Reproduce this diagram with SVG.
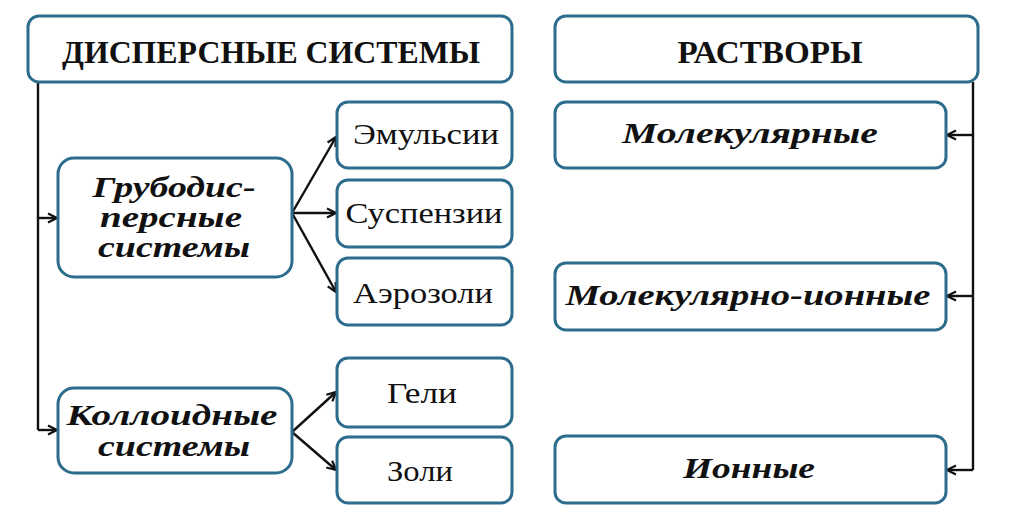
<svg xmlns="http://www.w3.org/2000/svg" width="1016" height="516" viewBox="0 0 1016 516">
<defs>
<marker id="arr" viewBox="0 0 12 12" refX="11" refY="6" markerWidth="12" markerHeight="12" markerUnits="userSpaceOnUse" orient="auto">
<path d="M2,1.5 L11,6 L2,10.5" fill="none" stroke="#111" stroke-width="2.2"/>
</marker>
</defs>
<style>
.box{fill:#fff;stroke:#2c6c8c;stroke-width:3}
.hd{font-family:"Liberation Serif",serif;font-weight:bold;font-size:31px;fill:#111}
.it{font-family:"Liberation Serif",serif;font-weight:bold;font-style:italic;font-size:29px;fill:#111}
.rg{font-family:"Liberation Serif",serif;font-size:29px;fill:#111}
.ln{fill:none;stroke:#111;stroke-width:2.4}
.ar{fill:none;stroke:#111;stroke-width:2.4;marker-end:url(#arr)}
</style>
<rect width="1016" height="516" fill="#fff"/>
<g id="connectors">
<path class="ln" d="M38,82 V430"/>
<path class="ar" d="M38,218 H57"/>
<path class="ar" d="M38,430 H57"/>
<path class="ar" d="M292,213 L336,137"/>
<path class="ar" d="M292,213 H336"/>
<path class="ar" d="M292,213 L336,292"/>
<path class="ar" d="M292,432 L336,392"/>
<path class="ar" d="M292,432 L336,470"/>
<path class="ln" d="M973,82 V470"/>
<path class="ar" d="M973,135 H947"/>
<path class="ar" d="M973,296 H947"/>
<path class="ar" d="M973,470 H947"/>
</g>
<g id="dispersnye">
<rect class="box" x="28" y="16" width="484" height="66" rx="11"/>
<text class="hd" x="271" y="63" text-anchor="middle" textLength="418" lengthAdjust="spacingAndGlyphs">ДИСПЕРСНЫЕ СИСТЕМЫ</text>
</g>
<g id="rastvory">
<rect class="box" x="555" y="16" width="423" height="66" rx="11"/>
<text class="hd" x="770" y="63" text-anchor="middle" textLength="185" lengthAdjust="spacingAndGlyphs">РАСТВОРЫ</text>
</g>
<g id="grubodispersnye">
<rect class="box" x="58" y="158" width="234" height="119" rx="16"/>
<text class="it" x="174" y="197" text-anchor="middle" textLength="163" lengthAdjust="spacingAndGlyphs">Грубодис-</text>
<text class="it" x="171" y="227" text-anchor="middle" textLength="142" lengthAdjust="spacingAndGlyphs">персные</text>
<text class="it" x="174" y="257" text-anchor="middle" textLength="152" lengthAdjust="spacingAndGlyphs">системы</text>
</g>
<g id="kolloidnye">
<rect class="box" x="58" y="388" width="234" height="85" rx="16"/>
<text class="it" x="172" y="425" text-anchor="middle" textLength="211" lengthAdjust="spacingAndGlyphs">Коллоидные</text>
<text class="it" x="174" y="456" text-anchor="middle" textLength="152" lengthAdjust="spacingAndGlyphs">системы</text>
</g>
<g id="emulsii">
<rect class="box" x="337" y="102" width="175" height="66" rx="11"/>
<text class="rg" x="426" y="144" text-anchor="middle" textLength="146" lengthAdjust="spacingAndGlyphs">Эмульсии</text>
</g>
<g id="suspenzii">
<rect class="box" x="337" y="180" width="175" height="67" rx="11"/>
<text class="rg" x="424" y="223" text-anchor="middle" textLength="157" lengthAdjust="spacingAndGlyphs">Суспензии</text>
</g>
<g id="aerozoli">
<rect class="box" x="337" y="258" width="175" height="67" rx="11"/>
<text class="rg" x="423" y="303" text-anchor="middle" textLength="140" lengthAdjust="spacingAndGlyphs">Аэрозоли</text>
</g>
<g id="geli">
<rect class="box" x="337" y="358" width="175" height="69" rx="11"/>
<text class="rg" x="422" y="403" text-anchor="middle" textLength="70" lengthAdjust="spacingAndGlyphs">Гели</text>
</g>
<g id="zoli">
<rect class="box" x="337" y="437" width="175" height="66" rx="11"/>
<text class="rg" x="420" y="481" text-anchor="middle" textLength="66" lengthAdjust="spacingAndGlyphs">Золи</text>
</g>
<g id="molekulyarnye">
<rect class="box" x="555" y="102" width="391" height="66" rx="11"/>
<text class="it" x="750" y="143" text-anchor="middle" textLength="256" lengthAdjust="spacingAndGlyphs">Молекулярные</text>
</g>
<g id="molekulyarno-ionnye">
<rect class="box" x="555" y="263" width="391" height="67" rx="11"/>
<text class="it" x="748" y="305" text-anchor="middle" textLength="365" lengthAdjust="spacingAndGlyphs">Молекулярно-ионные</text>
</g>
<g id="ionnye">
<rect class="box" x="555" y="436" width="391" height="67" rx="11"/>
<text class="it" x="749" y="478" text-anchor="middle" textLength="132" lengthAdjust="spacingAndGlyphs">Ионные</text>
</g>
</svg>
